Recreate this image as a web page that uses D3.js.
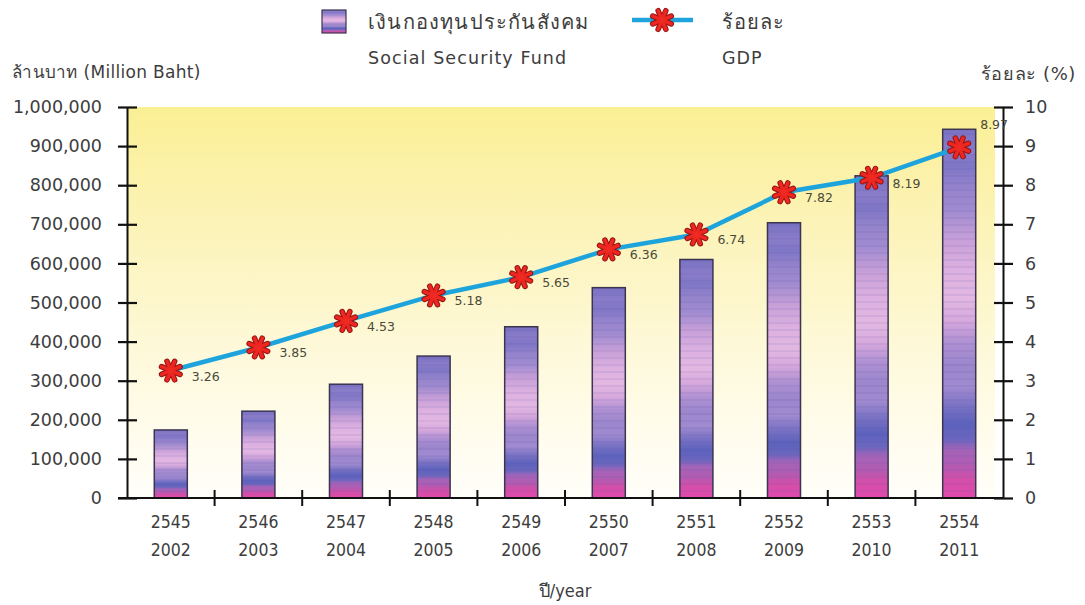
<!DOCTYPE html>
<html><head><meta charset="utf-8">
<script src="https://cdn.jsdelivr.net/npm/d3@7"></script>
<style>
html,body{margin:0;padding:0;background:#fff;}
svg{display:block;}
</style></head>
<body>
<svg id="chart" width="1085" height="605"></svg>
<script>
const thaiYears = ["2545","2546","2547","2548","2549","2550","2551","2552","2553","2554"];
const adYears   = ["2002","2003","2004","2005","2006","2007","2008","2009","2010","2011"];
const fundValues = [174000, 222000, 291000, 363000, 438000, 538000, 610000, 704000, 824000, 943000];
const gdpPercent = [3.26, 3.85, 4.53, 5.18, 5.65, 6.36, 6.74, 7.82, 8.19, 8.97];
const leftTicks = [0,100000,200000,300000,400000,500000,600000,700000,800000,900000,1000000];
const rightTicks = [0,1,2,3,4,5,6,7,8,9,10];

const svg = d3.select("#chart");
const L = 127, R = 1003, T = 107, B = 498;
const FONT = "'DejaVu Sans', 'Noto Sans', sans-serif";
const TEXT = "#3d3d3d";

const defs = svg.append("defs");
const bg = defs.append("linearGradient").attr("id","bgGrad").attr("x1",0).attr("y1",0).attr("x2",0).attr("y2",1);
[[0,"#fbef94"],[0.3,"#fcf3b8"],[0.65,"#fef9dc"],[0.9,"#fffdf2"],[1,"#fffef8"]].forEach(s=>bg.append("stop").attr("offset",s[0]).attr("stop-color",s[1]));

const bar = defs.append("linearGradient").attr("id","barGrad").attr("x1",0).attr("y1",0).attr("x2",0).attr("y2",1);
[[0,"#7a72c4"],[0.06,"#8a7cc8"],[0.1,"#7f76c6"],[0.16,"#9584cc"],[0.22,"#a08bd0"],[0.3,"#c8a0d8"],
 [0.38,"#dcb0e0"],[0.46,"#e2b8e2"],[0.52,"#d6a8dc"],[0.58,"#ae90d2"],[0.64,"#9c86cc"],[0.7,"#a08ad0"],
 [0.75,"#7a72c4"],[0.8,"#5d62bc"],[0.84,"#6a66be"],[0.87,"#a464b8"],[0.91,"#b05cb2"],[0.95,"#d44ea8"],[1,"#e04aac"]]
 .forEach(s=>bar.append("stop").attr("offset",s[0]).attr("stop-color",s[1]));

const stripes = defs.append("pattern").attr("id","stripes").attr("patternUnits","userSpaceOnUse").attr("width",10).attr("height",7);
stripes.append("rect").attr("width",10).attr("height",2).attr("fill","rgba(90,80,170,0.10)");

svg.append("rect").attr("x",L).attr("y",T).attr("width",995-L).attr("height",B-T).attr("fill","url(#bgGrad)");

const x = d3.scaleBand().domain(thaiYears).range([L,R]).paddingInner(0.623).paddingOuter(0.3115);
const yL = d3.scaleLinear().domain([0,1000000]).range([B,T]);
const yR = d3.scaleLinear().domain([0,10]).range([B,T]);

const bars = svg.append("g");
thaiYears.forEach((c,i)=>{
  const bx = x(c), bw = x.bandwidth(), by = yL(fundValues[i]), bh = B - by;
  bars.append("rect").attr("x",bx).attr("y",by).attr("width",bw).attr("height",bh).attr("fill","url(#barGrad)");
  bars.append("rect").attr("x",bx).attr("y",by).attr("width",bw).attr("height",bh).attr("fill","url(#stripes)")
     .attr("stroke","#3b3550").attr("stroke-width",1.5);
});

const axL = svg.append("g").attr("transform",`translate(${L},0)`)
  .call(d3.axisLeft(yL).tickValues(leftTicks).tickFormat(d3.format(",")).tickSizeInner(9).tickSizeOuter(0).tickPadding(16));
axL.select(".domain").attr("stroke","#111").attr("stroke-width",2);
axL.selectAll(".tick line").attr("x1",-9).attr("x2",10).attr("stroke","#111").attr("stroke-width",2.2);
axL.selectAll(".tick text").attr("font-family",FONT).attr("font-size",17.5).attr("fill",TEXT);

const axR = svg.append("g").attr("transform",`translate(${R},0)`)
  .call(d3.axisRight(yR).tickValues(rightTicks).tickSizeInner(10).tickSizeOuter(0).tickPadding(12));
axR.select(".domain").attr("stroke","#111").attr("stroke-width",2);
axR.selectAll(".tick line").attr("x1",-9).attr("x2",10).attr("stroke","#111").attr("stroke-width",2.2);
axR.selectAll(".tick text").attr("font-family",FONT).attr("font-size",17.5).attr("fill",TEXT);

const step = x.step();
svg.append("line").attr("x1",118).attr("x2",R).attr("y1",B).attr("y2",B).attr("stroke","#111").attr("stroke-width",2.2);
const bounds = thaiYears.map(c=>x(c) - step*x.paddingInner()/2).concat([R]);
bounds.slice(1,-1).forEach(bx=>{
  svg.append("line").attr("x1",bx).attr("x2",bx).attr("y1",B-8).attr("y2",B+8).attr("stroke","#111").attr("stroke-width",2);
});
const COND = "'DejaVu Sans Condensed', "+FONT;
thaiYears.forEach((c,i)=>{
  const cx = x(c)+x.bandwidth()/2;
  svg.append("text").attr("x",cx).attr("y",528).attr("text-anchor","middle").attr("font-family",COND)
    .attr("font-stretch","condensed").attr("font-size",17.5).attr("fill",TEXT).text(c);
  svg.append("text").attr("x",cx).attr("y",556).attr("text-anchor","middle").attr("font-family",COND)
    .attr("font-stretch","condensed").attr("font-size",17.5).attr("fill",TEXT).text(adYears[i]);
});

const lineGen = d3.line().x((d,i)=>x(thaiYears[i])+x.bandwidth()/2).y(d=>yR(d));
svg.append("path").datum(gdpPercent).attr("d",lineGen).attr("fill","none").attr("stroke","#1ea4dc").attr("stroke-width",4.5);

function star(g, cx, cy, s){
  const grp = g.append("g").attr("transform",`translate(${cx},${cy})`);
  const angles = [0,45,90,135].map(a=>a*Math.PI/180 + Math.PI/8);
  angles.forEach(r=>{
    grp.append("line").attr("x1",-s*Math.cos(r)).attr("y1",-s*Math.sin(r)).attr("x2",s*Math.cos(r)).attr("y2",s*Math.sin(r))
      .attr("stroke","#961412").attr("stroke-width",5.6).attr("stroke-linecap","round");
  });
  angles.forEach(r=>{
    grp.append("line").attr("x1",-s*Math.cos(r)).attr("y1",-s*Math.sin(r)).attr("x2",s*Math.cos(r)).attr("y2",s*Math.sin(r))
      .attr("stroke","#ec2620").attr("stroke-width",3.6).attr("stroke-linecap","round");
  });
  grp.append("circle").attr("r",3.2).attr("fill","#ee2a22");
}
const marks = svg.append("g");
gdpPercent.forEach((v,i)=>{
  const cx = x(thaiYears[i])+x.bandwidth()/2, cy = yR(v);
  star(marks, cx, cy, 10);
  const last = i === gdpPercent.length-1;
  svg.append("text").attr("x",cx+21).attr("y", last ? cy-18 : cy+10).attr("font-family",FONT).attr("font-size",12.5)
    .attr("fill","#4a4a3a").text(v.toFixed(2));
});

svg.append("text").attr("x",12).attr("y",78).attr("font-family",FONT).attr("font-size",17).attr("letter-spacing",0.3).attr("fill",TEXT).text("ล้านบาท (Million Baht)");
svg.append("text").attr("x",1076).attr("y",80).attr("text-anchor","end").attr("font-family",FONT).attr("font-size",18).attr("letter-spacing",0.6).attr("fill",TEXT).text("ร้อยละ (%)");
svg.append("text").attr("x",565).attr("y",597).attr("text-anchor","middle").attr("font-family",COND)
  .attr("font-stretch","condensed").attr("font-size",18).attr("fill",TEXT).text("ปี/year");

svg.append("rect").attr("x",322).attr("y",10).attr("width",24).attr("height",23).attr("fill","url(#barGrad)").attr("stroke","#3b3550").attr("stroke-width",1.2);
svg.append("text").attr("x",368).attr("y",29).attr("font-family",FONT).attr("font-size",20).attr("letter-spacing",1.2).attr("fill",TEXT).text("เงินกองทุนประกันสังคม");
svg.append("text").attr("x",368).attr("y",64).attr("font-family",FONT).attr("font-size",17.5).attr("letter-spacing",1.1).attr("fill",TEXT).text("Social Security Fund");
svg.append("line").attr("x1",632).attr("x2",693).attr("y1",20).attr("y2",20).attr("stroke","#1ea4dc").attr("stroke-width",4.5);
star(svg, 662, 20, 10);
svg.append("text").attr("x",722).attr("y",29).attr("font-family",FONT).attr("font-size",20).attr("letter-spacing",1).attr("fill",TEXT).text("ร้อยละ");
svg.append("text").attr("x",722).attr("y",64).attr("font-family",FONT).attr("font-size",17.5).attr("letter-spacing",1).attr("fill",TEXT).text("GDP");
</script>
</body></html>
